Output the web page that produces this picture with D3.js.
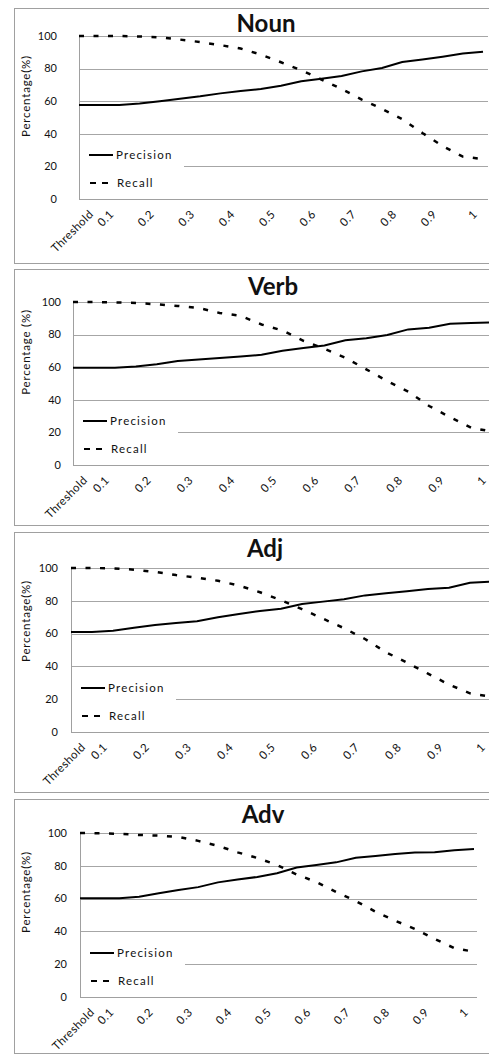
<!DOCTYPE html>
<html>
<head>
<meta charset="utf-8">
<script src="https://cdn.jsdelivr.net/npm/d3@7"></script>
<style>
  html, body { margin: 0; padding: 0; background: #fff; }
  svg { display: block; }
  text { font-family: Lato, "Liberation Sans", sans-serif; fill: #111; }
</style>
</head>
<body>
<script>
// ---------------- DATA ----------------
const thresholds = [0, 0.05, 0.1, 0.15, 0.2, 0.25, 0.3, 0.35, 0.4, 0.45, 0.5,
                    0.55, 0.6, 0.65, 0.7, 0.75, 0.8, 0.85, 0.9, 0.95, 1];
const xTickValues = [0, 0.1, 0.2, 0.3, 0.4, 0.5, 0.6, 0.7, 0.8, 0.9, 1];
const xTickLabels = ["Threshold", "0.1", "0.2", "0.3", "0.4", "0.5", "0.6", "0.7", "0.8", "0.9", "1"];
const yTickValues = [0, 20, 40, 60, 80, 100];
const panelTitles = ["Noun", "Verb", "Adj", "Adv"];
const yAxisTitles = ["Percentage(%)", "Percentage (%)", "Percentage(%)", "Percentage(%)"];
const seriesNames = ["Precision", "Recall"];

const nounPrecision = [57.7, 57.7, 57.7, 58.6, 60.0, 61.5, 63.0, 64.8, 66.2, 67.5, 69.5,
                       72.2, 73.8, 75.4, 78.3, 80.4, 84.0, 85.6, 87.3, 89.2, 90.4];
const nounRecall    = [100, 100, 100, 99.7, 99.2, 97.8, 96.3, 94.4, 92.3, 88.6, 83.9,
                       79.0, 73.3, 67.5, 61.0, 55.3, 49.0, 40.5, 32.5, 26.0, 24.5];
const verbPrecision = [59.6, 59.6, 59.6, 60.5, 61.8, 63.8, 64.7, 65.6, 66.5, 67.6, 70.1,
                       71.8, 73.3, 76.5, 77.8, 79.7, 83.2, 84.2, 86.7, 87.1, 87.5];
const verbRecall    = [100, 100, 99.8, 99.4, 98.6, 97.6, 96.3, 93.3, 91.5, 86.2, 82.5,
                       76.2, 71.3, 65.8, 58.7, 51.5, 45.0, 36.2, 29.3, 22.9, 20.5];
const adjPrecision  = [61.0, 61.0, 61.8, 63.6, 65.2, 66.5, 67.6, 70.0, 72.0, 73.8, 75.2,
                       78.0, 79.5, 81.0, 83.3, 84.6, 85.8, 87.2, 88.0, 91.0, 91.6];
const adjRecall     = [100, 100, 99.8, 99.0, 97.6, 95.7, 94.1, 92.2, 89.3, 85.2, 80.4,
                       74.9, 69.1, 63.3, 56.7, 48.6, 42.3, 35.6, 28.9, 23.6, 21.5];
const advPrecision  = [60.2, 60.2, 60.2, 61.2, 63.2, 65.3, 67.0, 69.9, 71.6, 73.2, 75.5,
                       79.0, 80.5, 82.1, 84.9, 86.0, 87.2, 88.1, 88.3, 89.5, 90.2];
const advRecall     = [100, 99.8, 99.5, 98.8, 98.4, 97.6, 95.2, 92.2, 88.2, 84.8, 80.5,
                       74.7, 70.1, 64.0, 58.5, 52.0, 46.5, 41.5, 35.4, 29.8, 27.6];

const precisionSeries = [nounPrecision, verbPrecision, adjPrecision, advPrecision];
const recallSeries    = [nounRecall, verbRecall, adjRecall, advRecall];

// ---------------- LAYOUT ----------------
const W = 489, H = 1055;
const layout = [
  {top: 8,   bottom: 263,  L: 79, R: 483, y100: 36,  y0: 199, gridRight: 488, titleX: 266, titleY: 32,  yTitleCY: 96,  yLabelRight: 57},
  {top: 269, bottom: 525,  L: 73, R: 492, y100: 302, y0: 465, gridRight: 500, titleX: 273, titleY: 295, yTitleCY: 352, yLabelRight: 61},
  {top: 532, bottom: 792,  L: 71, R: 491, y100: 568, y0: 732, gridRight: 500, titleX: 265, titleY: 557, yTitleCY: 621, yLabelRight: 58},
  {top: 799, bottom: 1053, L: 80, R: 474, y100: 833, y0: 997, gridRight: 477, titleX: 263, titleY: 823, yTitleCY: 892, yLabelRight: 67}
];

const svg = d3.select("body").append("svg").attr("width", W).attr("height", H);

layout.forEach((p, i) => {
  const g = svg.append("g");
  // frame
  g.append("rect").attr("x", 14.5).attr("y", p.top + 0.5)
    .attr("width", 500).attr("height", p.bottom - p.top)
    .attr("fill", "#fff").attr("stroke", "#a0a0a0").attr("stroke-width", 1);

  const x = d3.scaleLinear().domain([0, 1]).range([p.L, p.R]);
  const y = d3.scaleLinear().domain([0, 100]).range([p.y0, p.y100]);

  // gridlines
  g.append("g").selectAll("line").data(yTickValues.filter(v => v > 0)).join("line")
    .attr("x1", p.L).attr("x2", p.gridRight)
    .attr("y1", d => Math.round(y(d)) + 0.5).attr("y2", d => Math.round(y(d)) + 0.5)
    .attr("stroke", "#a6a6a6").attr("stroke-width", 1);
  // axes lines
  g.append("line").attr("x1", p.L + 0.5).attr("x2", p.L + 0.5)
    .attr("y1", Math.round(y(100))).attr("y2", Math.round(y(0)) + 1)
    .attr("stroke", "#a0a0a0");
  g.append("line").attr("x1", p.L).attr("x2", p.gridRight)
    .attr("y1", Math.round(y(0)) + 0.5).attr("y2", Math.round(y(0)) + 0.5)
    .attr("stroke", "#a0a0a0");

  // y tick labels
  g.append("g").selectAll("text").data(yTickValues).join("text")
    .attr("x", p.yLabelRight).attr("y", d => y(d)).attr("dy", "0.35em")
    .attr("text-anchor", "end").attr("font-size", 11)
    .text(d => d);

  // y title
  g.append("text")
    .attr("transform", `translate(${30},${p.yTitleCY}) rotate(-90)`)
    .attr("text-anchor", "middle").attr("font-size", 11.5).attr("letter-spacing", 0.8)
    .text(yAxisTitles[i]);

  // x tick labels
  g.append("g").selectAll("text").data(xTickValues).join("text")
    .attr("transform", (d, k) => `translate(${x(d) + (k === 0 ? 15 : -5)},${p.y0 + 16}) rotate(-45)`)
    .attr("text-anchor", "end").attr("font-size", 11.5).attr("letter-spacing", 0.4)
    .text((d, k) => xTickLabels[k]);

  // title
  g.append("text").attr("x", p.titleX).attr("y", p.titleY)
    .attr("text-anchor", "middle").attr("font-size", 24).attr("font-weight", "bold")
    .text(panelTitles[i]);

  // legend background (covers gridline)
  g.append("rect").attr("x", p.L + 1).attr("y", y(36)).attr("width", 104)
    .attr("height", y(3) - y(36)).attr("fill", "#fff");

  // lines
  const line = d3.line().x((d, k) => x(thresholds[k])).y(d => y(d));
  g.append("path").datum(precisionSeries[i]).attr("d", line)
    .attr("fill", "none").attr("stroke", "#000").attr("stroke-width", 2);
  g.append("path").datum(recallSeries[i]).attr("d", line)
    .attr("fill", "none").attr("stroke", "#000").attr("stroke-width", 2.5)
    .attr("stroke-dasharray", "5,9.5");

  // legend
  const ly1 = p.y0 - 44, ly2 = p.y0 - 16;
  g.append("line").attr("x1", p.L + 10).attr("x2", p.L + 34).attr("y1", ly1).attr("y2", ly1)
    .attr("stroke", "#000").attr("stroke-width", 2);
  g.append("text").attr("x", p.L + 37).attr("y", ly1).attr("dy", "0.35em")
    .attr("font-size", 11.5).attr("letter-spacing", 1.2).text(seriesNames[0]);
  g.append("line").attr("x1", p.L + 11).attr("x2", p.L + 35).attr("y1", ly2).attr("y2", ly2)
    .attr("stroke", "#000").attr("stroke-width", 2).attr("stroke-dasharray", "6,6");
  g.append("text").attr("x", p.L + 38).attr("y", ly2).attr("dy", "0.35em")
    .attr("font-size", 11.5).attr("letter-spacing", 1.2).text(seriesNames[1]);
});
</script>
</body>
</html>
